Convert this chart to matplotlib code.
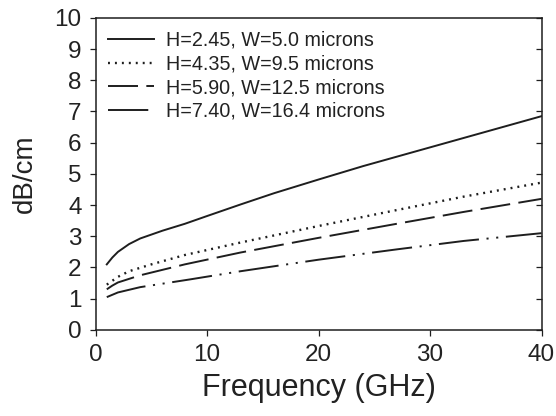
import numpy as np
import matplotlib
matplotlib.use("Agg")
from matplotlib import pyplot as plt

plt.rcParams["font.family"] = ["Liberation Sans", "DejaVu Sans"]
plt.rcParams["lines.scale_dashes"] = False

# attenuation (dB/cm) vs frequency (GHz) for four line geometries
f_a = [1, 1.5, 2, 3, 4, 6, 8, 10, 13, 16, 20, 24, 27, 30, 33, 36, 40]
loss_a = [2.1, 2.32, 2.5, 2.75, 2.93, 3.18, 3.4, 3.65, 4.02, 4.38, 4.82, 5.25, 5.55, 5.85, 6.15, 6.45, 6.85]

f_b = [1, 2, 3, 5, 8, 13, 20, 27, 33, 40]
loss_b = [1.45, 1.7, 1.88, 2.1, 2.4, 2.8, 3.33, 3.84, 4.27, 4.72]

f_c = [1, 1.5, 2, 4, 8, 13, 20, 27, 33, 40]
loss_c = [1.3, 1.42, 1.52, 1.75, 2.1, 2.48, 2.95, 3.4, 3.78, 4.2]

f_d = [1, 2, 4, 8.5, 13, 20, 27, 33, 40]
loss_d = [1.05, 1.2, 1.37, 1.62, 1.88, 2.25, 2.58, 2.85, 3.1]

labels = ["H=2.45, W=5.0 microns",
          "H=4.35, W=9.5 microns",
          "H=5.90, W=12.5 microns",
          "H=7.40, W=16.4 microns"]

ink = "#1e1e1e"
txt = "#222222"

fig = plt.figure(figsize=(5.56, 4.16), dpi=100)
ax = fig.add_axes([0.172, 0.207, 0.802, 0.75])

ax.plot(f_a, loss_a, color=ink, lw=1.4, linestyle="-", label=labels[0])
ax.plot(f_b, loss_b, color=ink, lw=1.7, linestyle=(0, (1.4, 3.6)), label=labels[1])
ax.plot(f_c, loss_c, color=ink, lw=1.4, linestyle=(0, (21.6, 6)), label=labels[2])
ax.plot(f_d, loss_d, color=ink, lw=1.4,
        linestyle=(0, (29, 5.5, 1.5, 5.5, 1.5, 5.5)), label=labels[3])

ax.set_xlim(0, 40)
ax.set_ylim(0, 10)
ax.set_xticks([0, 10, 20, 30, 40])
ax.set_yticks(range(0, 11))
ax.tick_params(axis="both", labelsize=17.5, color=ink, labelcolor=txt,
               length=4, width=0.9, direction="out", pad=6)
for s in ax.spines.values():
    s.set_linewidth(1.1)
    s.set_color(ink)

# inward ticks along the right edge
rax = ax.secondary_yaxis("right")
rax.set_yticks(range(0, 11))
rax.tick_params(direction="in", length=4, width=0.9, color=ink, labelright=False)
rax.spines["right"].set_visible(False)

ax.set_xlabel("Frequency (GHz)", fontsize=22, color=txt, labelpad=5)
ax.set_ylabel("dB/cm", fontsize=20, color=txt, labelpad=12)

leg = ax.legend(loc="upper left", frameon=False, fontsize=14.2,
                handlelength=2.3, handletextpad=0.6, labelspacing=0.24,
                borderaxespad=0.25, borderpad=0.4)
for t in leg.get_texts():
    t.set_color(txt)

plt.savefig("out.png", dpi=100)
